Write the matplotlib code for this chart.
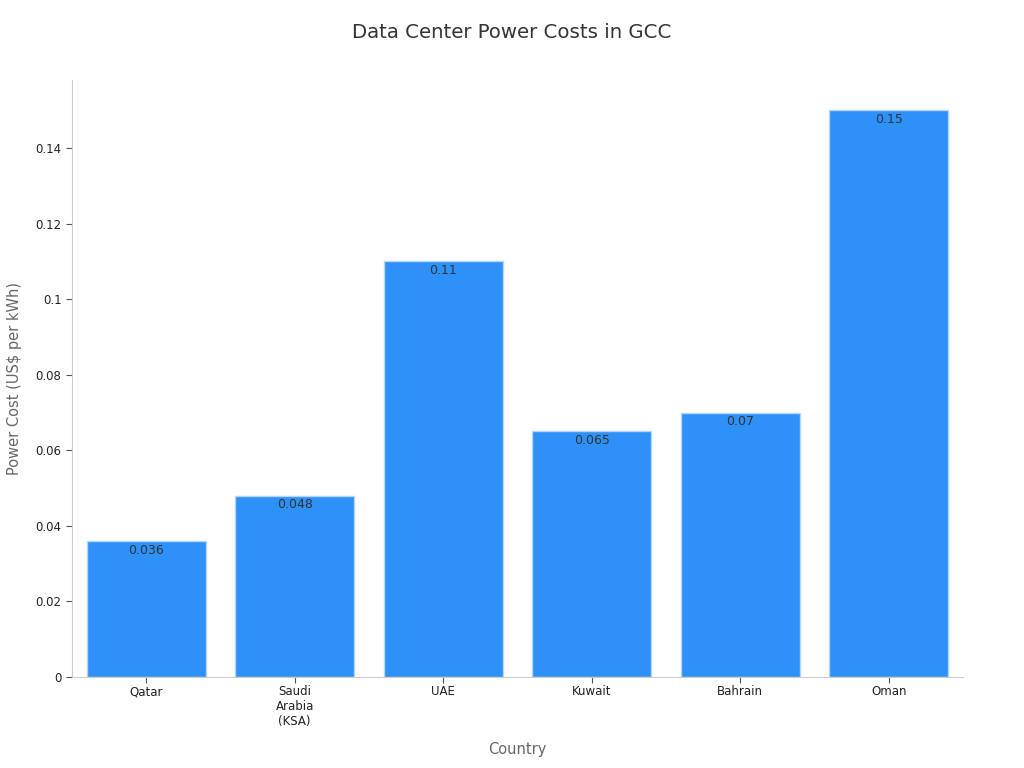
import numpy as np
from matplotlib import pyplot as plt

# Data
countries = ['Qatar', 'Saudi\nArabia\n(KSA)', 'UAE', 'Kuwait', 'Bahrain', 'Oman']
costs = [0.036, 0.048, 0.11, 0.065, 0.07, 0.15]
labels = ['0.036', '0.048', '0.11', '0.065', '0.07', '0.15']
yticks = [0, 0.02, 0.04, 0.06, 0.08, 0.1, 0.12, 0.14]
ytick_labels = ['0', '0.02', '0.04', '0.06', '0.08', '0.1', '0.12', '0.14']

plt.rcParams['font.family'] = ['DejaVu Sans']

fig = plt.figure(figsize=[10.24, 7.68], dpi=100)
ax = fig.add_axes([0.0703, 0.1185, 0.8701, 0.7773])

x = np.arange(len(countries))
bars = ax.bar(x, costs, width=0.8, color='#2E90F9', edgecolor='#B5D6F8', linewidth=1)

# Value labels just inside the top of each bar
for xi, val, lab in zip(x, costs, labels):
    ax.annotate(lab, (xi, val), xytext=(0, -2), textcoords='offset points',
                ha='center', va='top', fontsize=9, color='#333333')

ax.set_xlim(-0.5, 5.5)
ax.set_ylim(0, 0.158)
ax.set_xticks(x)
ax.set_xticklabels(countries, fontsize=8.5, color='#222222')
ax.set_yticks(yticks)
ax.set_yticklabels(ytick_labels, fontsize=8.5, color='#222222')
ax.tick_params(axis='x', pad=2)

ax.set_xlabel('Country', fontsize=10.5, color='#666666', labelpad=10)
ax.set_ylabel('Power Cost (US$ per kWh)', fontsize=10.5, color='#666666', labelpad=10)
fig.suptitle('Data Center Power Costs in GCC', fontsize=14.2, color='#333333', y=0.97)

for side in ['top', 'right']:
    ax.spines[side].set_visible(False)
for side in ['left', 'bottom']:
    ax.spines[side].set_color('#cccccc')
ax.tick_params(axis='both', color='#555555', length=4)

fig.savefig('out.png', dpi=100)
